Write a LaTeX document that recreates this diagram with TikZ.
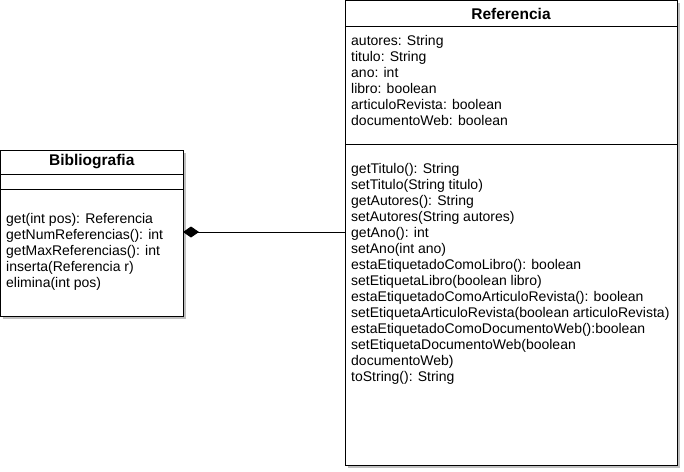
\documentclass[tikz,border=0pt]{standalone}
\usepackage{fontspec}
\setmainfont{Liberation Sans}
\usetikzlibrary{arrows.meta,positioning,shadows}

\begin{document}
\begin{tikzpicture}[
  x=1pt,y=-1pt,
  part/.style={draw,fill=white,line width=.9pt,inner sep=0,outer sep=0,
    drop shadow={shadow xshift=2.5pt,shadow yshift=-2.5pt,opacity=.25,fill=black}},
  cname/.style={font=\bfseries\fontsize{15.5}{18}\selectfont},
  mbr/.style={anchor=base west,inner sep=0,font=\fontsize{14}{16}\selectfont},
  comp/.style={line width=.9pt,{Diamond[length=16pt,width=11pt]}-},
]
  \useasboundingbox (0,0) rectangle (684,471);
  \node[part,cname,anchor=north west,minimum width=182.5pt,minimum height=24pt] (bibN) at (0.5,150) {Bibliografia};
  \node[part,below=0pt of bibN,minimum width=182.5pt,minimum height=15pt] (bibA) {};
  \node[part,below=0pt of bibA,minimum width=182.5pt,minimum height=127pt] (bibM) {};
  \foreach \t [count=\i from 0] in {get(int pos): Referencia,getNumReferencias(): int,
      getMaxReferencias(): int,inserta(Referencia r),elimina(int pos)}
    \node[mbr] (bibm\i) at (6,223+16*\i) {\t};

  \node[part,cname,anchor=north west,minimum width=332pt,minimum height=26pt] (refN) at (345,0.5) {Referencia};
  \node[part,below=0pt of refN,minimum width=332pt,minimum height=117.5pt] (refA) {};
  \node[part,below=0pt of refA,minimum width=332pt,minimum height=321pt] (refM) {};
  \foreach \t [count=\i from 0] in {autores: String,titulo: String,ano: int,libro: boolean,
      articuloRevista: boolean,documentoWeb: boolean}
    \node[mbr] (refa\i) at (351,45.5+16*\i) {\t};
  \foreach \t [count=\i from 0] in {getTitulo(): String,setTitulo(String titulo),
      getAutores(): String,setAutores(String autores),getAno(): int,setAno(int ano),
      estaEtiquetadoComoLibro(): boolean,setEtiquetaLibro(boolean libro),
      estaEtiquetadoComoArticuloRevista(): boolean,
      setEtiquetaArticuloRevista(boolean articuloRevista),
      estaEtiquetadoComoDocumentoWeb():boolean,setEtiquetaDocumentoWeb(boolean,
      documentoWeb),toString(): String}
    \node[mbr] (refm\i) at (351,173.5+16*\i) {\t};

  \coordinate (link) at ([yshift=20.5pt]bibM.east);
  \draw[comp] (link) -- (link -| refM.west);
\end{tikzpicture}
\end{document}
